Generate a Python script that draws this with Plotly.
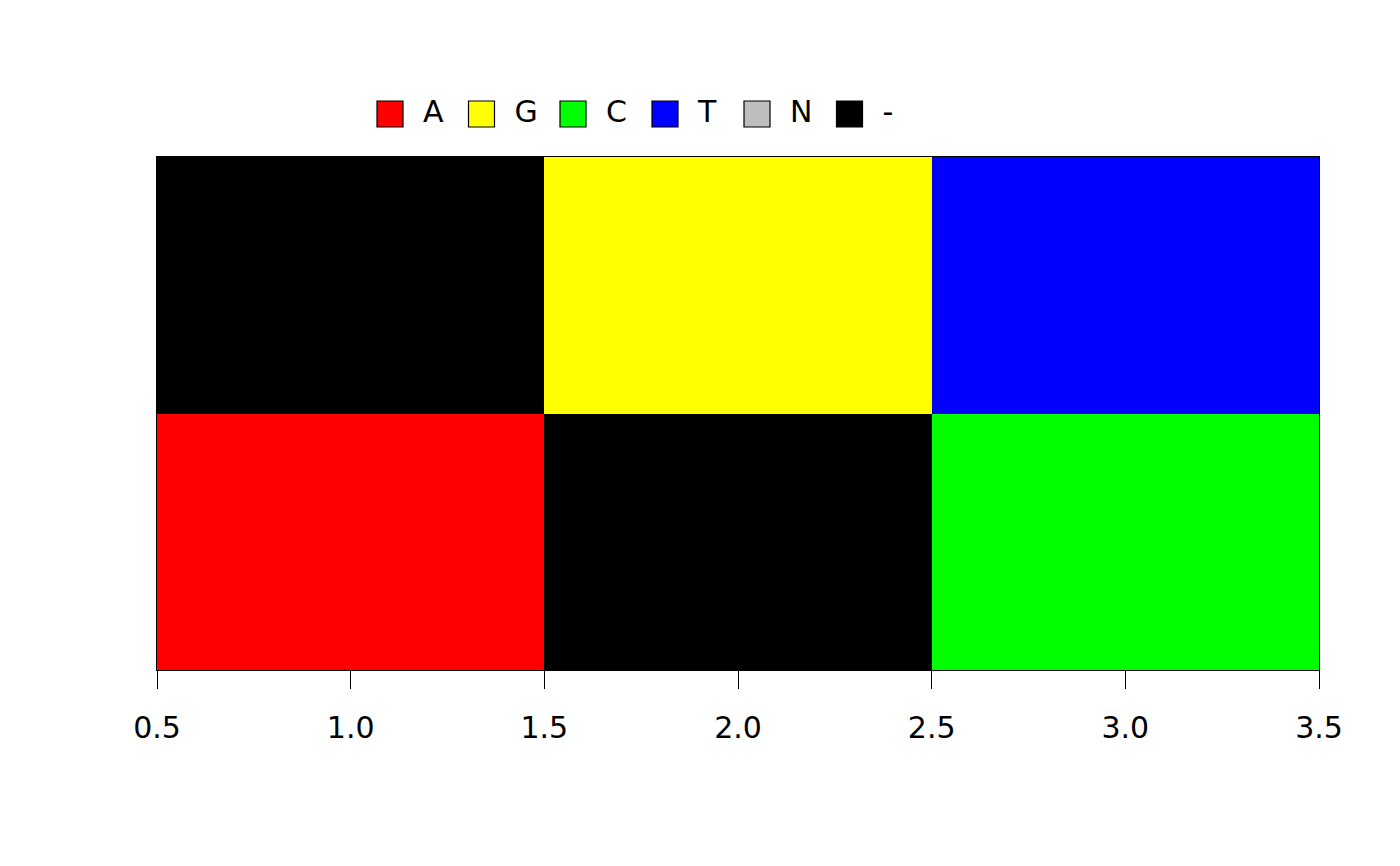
import plotly.graph_objects as go

# ---- data ----
positions = [1, 2, 3]
rows = [1, 2]
row_bottom = ["A", "-", "C"]
row_top = ["-", "G", "T"]
symbols = ["A", "G", "C", "T", "N", "-"]
symbol_colors = ["#FF0000", "#FFFF00", "#00FF00", "#0000FF", "#BEBEBE", "#000000"]
tick_values = [0.5, 1.0, 1.5, 2.0, 2.5, 3.0, 3.5]
tick_labels = ["0.5", "1.0", "1.5", "2.0", "2.5", "3.0", "3.5"]

# legend layout in pixel units (overlay axis)
legend_box_x = [390, 481.5, 573, 665, 757, 849.5]
legend_y = 114

code = {s: i for i, s in enumerate(symbols)}
z = [[code[s] for s in row_bottom], [code[s] for s in row_top]]
n = len(symbols)
colorscale = []
for i, c in enumerate(symbol_colors):
    colorscale.append([i / n, c])
    colorscale.append([(i + 1) / n, c])

FONT = "DejaVu Sans"
FS = 30
H = 866
T_M, B_M = 60, 196
plot_h = H - T_M - B_M
main_top = (670 - 157) / plot_h
leg_bot = 0.86
leg_bot_px = 670 - leg_bot * plot_h

fig = go.Figure()
fig.add_trace(go.Heatmap(
    x=positions, y=rows, z=z, zmin=-0.5, zmax=n - 0.5,
    colorscale=colorscale, showscale=False, hoverinfo="skip",
))

# legend boxes
fig.add_trace(go.Scatter(
    x=legend_box_x, y=[legend_y] * n, mode="markers",
    marker=dict(symbol="square", size=26, color=symbol_colors,
                line=dict(color="black", width=1.2)),
    xaxis="x2", yaxis="y2", cliponaxis=False, showlegend=False, hoverinfo="skip",
))
fig.add_trace(go.Scatter(
    x=[v + 33 for v in legend_box_x], y=[legend_y] * n, mode="text",
    text=symbols, textposition="middle right",
    textfont=dict(family=FONT, size=FS, color="black"),
    xaxis="x2", yaxis="y2", cliponaxis=False, showlegend=False, hoverinfo="skip",
))

fig.update_layout(
    width=1400, height=H,
    margin=dict(l=157, r=81, t=T_M, b=B_M),
    paper_bgcolor="white", plot_bgcolor="white",
    showlegend=False,
    font=dict(family=FONT, size=FS, color="black"),
    xaxis=dict(
        range=[0.5, 3.5], tickmode="array", tickvals=tick_values, ticktext=tick_labels,
        ticks="outside", ticklen=18, tickwidth=1.2, tickcolor="black",
        showline=True, linecolor="black", linewidth=1.2, mirror=True,
        showgrid=False, zeroline=False, tickfont=dict(family=FONT, size=FS),
        ticklabelstandoff=13, anchor="y",
    ),
    yaxis=dict(
        range=[0.5, 2.5], showticklabels=False, ticks="", domain=[0, main_top],
        showline=True, linecolor="black", linewidth=1.2, mirror=True,
        showgrid=False, zeroline=False,
    ),
    xaxis2=dict(range=[157, 1319], domain=[0, 1], visible=False, anchor="y2",
                showgrid=False, zeroline=False),
    yaxis2=dict(range=[leg_bot_px, T_M], domain=[leg_bot, 1], visible=False, anchor="x2",
                showgrid=False, zeroline=False),
)

fig.write_html("out.html")
